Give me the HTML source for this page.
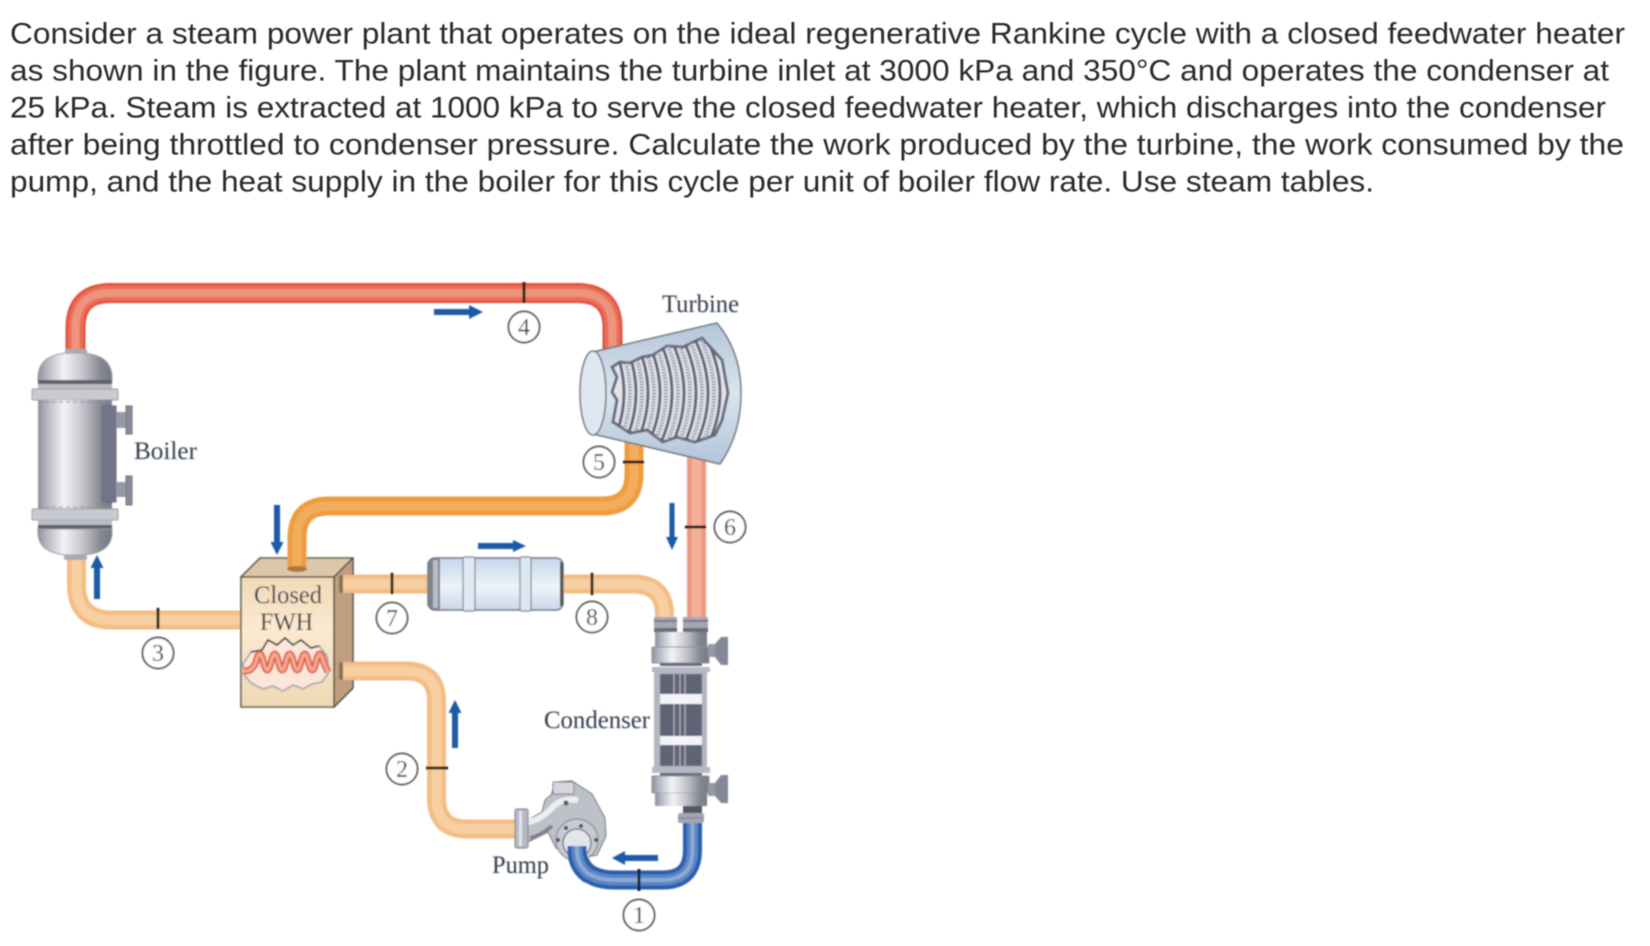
<!DOCTYPE html>
<html>
<head>
<meta charset="utf-8">
<style>
html,body{margin:0;padding:0;background:#fff;width:1650px;height:946px;overflow:hidden}
svg{display:block}
.q{font-family:"Liberation Sans",sans-serif;font-size:30px;fill:#2b2b2b}
.l{font-family:"Liberation Serif",serif;font-size:25px;fill:#2f3a4a}
.n{font-family:"Liberation Serif",serif;font-size:24px;fill:#333d4d;text-anchor:middle}
</style>
</head>
<body>
<svg width="1650" height="946" viewBox="0 0 1650 946" xmlns="http://www.w3.org/2000/svg">
<defs>
<filter id="b" x="-5%" y="-5%" width="110%" height="110%"><feGaussianBlur stdDeviation="0.75"/></filter>
<filter id="t"><feGaussianBlur stdDeviation="0.4"/></filter>
<linearGradient id="metal" x1="0" x2="1" y1="0" y2="0">
<stop offset="0" stop-color="#8d8f9c"/><stop offset=".12" stop-color="#b5b7c2"/><stop offset=".35" stop-color="#f3f3f5"/><stop offset=".6" stop-color="#c4c5cc"/><stop offset=".85" stop-color="#85878f"/><stop offset="1" stop-color="#777985"/>
</linearGradient>
<linearGradient id="front" x1="0" x2="0" y1="0" y2="1">
<stop offset="0" stop-color="#f0d9b5"/><stop offset=".4" stop-color="#fbe9d0"/><stop offset="1" stop-color="#eed9b2"/>
</linearGradient>
<linearGradient id="heater" x1="0" x2="0" y1="0" y2="1">
<stop offset="0" stop-color="#c4d6ea"/><stop offset=".55" stop-color="#eef3f9"/><stop offset="1" stop-color="#c9d8e8"/>
</linearGradient>
<linearGradient id="turb" x1="0" x2="0" y1="0" y2="1">
<stop offset="0" stop-color="#b4c5d8"/><stop offset=".5" stop-color="#dbe4ee"/><stop offset="1" stop-color="#b2c4d8"/>
</linearGradient>
<clipPath id="bl"><polygon points="612,367 620,362 630,363 642,357 653,355 667,346 683,347 702,338 722,360 728,393 722,420 715,435 695,442 677,437 663,442 647,430 630,433 613,422 617,400 612,392 617,377"/></clipPath>
<path id="p4" d="M75.500 349V328Q75.500 293 110.500 293H577Q612.500 293 612.500 328V352" fill="none"/>
<path id="p3" d="M76.500 556V585Q76.500 620 111.500 620H242" fill="none"/>
<path id="p5" d="M297 570V538Q297 506 329 506H602Q634 506 634 474V440" fill="none"/>
<path id="p7" d="M340 584H430" fill="none"/>
<path id="p8" d="M560 584H633Q664.500 584 664.500 615V620" fill="none"/>
<path id="p2" d="M340 671H406Q436.500 671 436.500 701V798Q436.500 829 467 829H518" fill="none"/>
<path id="p1" d="M692.500 822V850Q692.500 880 662.500 880H615Q577 880 577 846" fill="none"/>
<path id="coil" d="M243 671Q252 672 256 662Q259.750 646 263.500 662T271 662T278.500 662T286 662T293.500 662T301 662T308.500 662T316 662T323.500 662L328 672" fill="none"/>
</defs>

<g filter="url(#t)">
<text class="q" x="10" y="43.500" textLength="1615" lengthAdjust="spacingAndGlyphs">Consider a steam power plant that operates on the ideal regenerative Rankine cycle with a closed feedwater heater</text>
<text class="q" x="10" y="80.500" textLength="1599" lengthAdjust="spacingAndGlyphs">as shown in the figure. The plant maintains the turbine inlet at 3000 kPa and 350°C and operates the condenser at</text>
<text class="q" x="10" y="117.500" textLength="1596" lengthAdjust="spacingAndGlyphs">25 kPa. Steam is extracted at 1000 kPa to serve the closed feedwater heater, which discharges into the condenser</text>
<text class="q" x="10" y="154.500" textLength="1614" lengthAdjust="spacingAndGlyphs">after being throttled to condenser pressure. Calculate the work produced by the turbine, the work consumed by the</text>
<text class="q" x="10" y="191.500" textLength="1364" lengthAdjust="spacingAndGlyphs">pump, and the heat supply in the boiler for this cycle per unit of boiler flow rate. Use steam tables.</text>
</g>

<g filter="url(#b)">
<!-- pipes -->
<g stroke-linecap="butt">
<use href="#p4" stroke="#e4503d" stroke-width="20"/><use href="#p4" stroke="#e96e58" stroke-width="15"/><use href="#p4" stroke="#ee937b" stroke-width="8"/>
<use href="#p3" stroke="#f3bd85" stroke-width="19"/><use href="#p3" stroke="#f7cfa0" stroke-width="10"/>
<use href="#p5" stroke="#ee9c40" stroke-width="19"/><use href="#p5" stroke="#f2ad5c" stroke-width="9"/>
<use href="#p7" stroke="#f3bd85" stroke-width="19"/><use href="#p7" stroke="#f7cfa0" stroke-width="10"/>
<use href="#p8" stroke="#f3bd85" stroke-width="19"/><use href="#p8" stroke="#f7cfa0" stroke-width="10"/>
<use href="#p2" stroke="#f3bd85" stroke-width="19"/><use href="#p2" stroke="#f7cfa0" stroke-width="10"/>
<path d="M696.500 450V620" stroke="#ee9880" stroke-width="19" fill="none"/><path d="M696.500 450V620" stroke="#f4b09a" stroke-width="10" fill="none"/>
<use href="#p1" stroke="#2c5fae" stroke-width="19"/><use href="#p1" stroke="#5a86c4" stroke-width="11"/><use href="#p1" stroke="#8aa9d6" stroke-width="4"/>
</g>

<!-- boiler -->
<g>
<rect x="65" y="349" width="22" height="6" rx="1" fill="#a9abb5"/>
<path d="M38 378Q38 353 72 353H78Q112 353 112 378V381H38Z" fill="url(#metal)" stroke="#9a9ca6"/>
<rect x="38" y="380" width="74" height="4" fill="#5e606c"/>
<rect x="38" y="384" width="74" height="5" fill="#b9bbc4"/>
<rect x="32" y="389" width="86" height="11" rx="1" fill="#c9cad0" stroke="#9b9da7"/>
<rect x="38" y="400" width="74" height="109" fill="url(#metal)"/>
<path d="M38 402H112M38 507H112" stroke="#8d8fa0" stroke-dasharray="4 3"/>
<rect x="102" y="406" width="14" height="96" fill="#72758a" stroke="#6a6c7c"/>
<rect x="116" y="412" width="11" height="16" fill="#9698a6"/>
<rect x="126" y="406" width="6" height="28" fill="#878a9a" stroke="#777"/>
<rect x="116" y="482" width="11" height="15" fill="#9698a6"/>
<rect x="126" y="476" width="6" height="29" fill="#878a9a" stroke="#777"/>
<rect x="32" y="509" width="86" height="11" rx="1" fill="#c9cad0" stroke="#9b9da7"/>
<rect x="38" y="520" width="74" height="5" fill="#b9bbc4"/>
<rect x="38" y="525" width="74" height="4" fill="#5e606c"/>
<path d="M38 529H112V532Q112 555 78 555H72Q38 555 38 532Z" fill="url(#metal)" stroke="#9a9ca6"/>
<rect x="64" y="555" width="23" height="5" rx="2" fill="#a9abb5"/>
</g>

<!-- FWH -->
<g stroke="#5b574d" stroke-width="1.600" stroke-linejoin="round">
<polygon points="241,577 260,558 353,558 334,577" fill="#dcc7ab"/>
<polygon points="334,577 353,558 353,688 334,707" fill="#bf9f80"/>
<rect x="241" y="577" width="93" height="130" fill="url(#front)"/>
</g>
<path d="M297 548V568" stroke="#ee9c40" stroke-width="19" fill="none"/>
<path d="M297 548V568" stroke="#f2ad5c" stroke-width="9" fill="none"/>
<ellipse cx="297" cy="569" rx="10" ry="3" fill="#a87a3a"/>
<rect x="339" y="575" width="4" height="18" rx="2" fill="#8a7058"/>
<rect x="339" y="662" width="4" height="18" rx="2" fill="#8a7058"/>
<path d="M343 584H356" stroke="#f3bd85" stroke-width="18"/><path d="M343 584H356" stroke="#f7cfa0" stroke-width="10"/>
<path d="M343 671H356" stroke="#f3bd85" stroke-width="18"/><path d="M343 671H356" stroke="#f7cfa0" stroke-width="10"/>
<!-- coil -->
<polygon points="243,664 251,652 262,650 268,640 277,645 285,638 293,645 301,640 311,648 319,646 327,656 329,672 322,682 312,684 303,689 293,685 283,691 273,686 263,689 251,683 245,676" fill="#fbe6da" stroke="#a8aab0" stroke-width="1.800"/>
<path d="M251 652 262 650 268 640 277 645 285 638 293 645 301 640 311 648 319 646" fill="none" stroke="#2f2f2f" stroke-width="1.600"/>
<use href="#coil" stroke="#e45a48" stroke-width="7"/>
<use href="#coil" stroke="#f2a78f" stroke-width="3.500"/>

<!-- feedwater pump heater -->
<g>
<rect x="428" y="558" width="135" height="52" rx="7" fill="url(#heater)" stroke="#6e7480" stroke-width="1.500"/>
<path d="M428 566V602Q430 610 437 610H440V558H437Q430 558 428 566Z" fill="#7e838c"/>
<rect x="433" y="560" width="5" height="48" fill="#b8bec8"/>
<rect x="463" y="557" width="12" height="54" rx="2" fill="#dfe8f2" stroke="#7a808c" stroke-width="1.200"/>
<rect x="520" y="557" width="11" height="54" rx="2" fill="#dfe8f2" stroke="#7a808c" stroke-width="1.200"/>
<rect x="560" y="562" width="3" height="44" fill="#555"/>
</g>

<!-- turbine -->
<path d="M593 352L717 323Q741 352 741 393T720 464L593 434Z" fill="url(#turb)" stroke="#6b7280" stroke-width="1.500" stroke-linejoin="round"/>
<ellipse cx="593" cy="393" rx="13" ry="42" fill="#dfe7f1" stroke="#6b7280" stroke-width="1.500"/>
<polygon points="612,367 620,362 630,363 642,357 653,355 667,346 683,347 702,338 722,360 728,393 722,420 715,435 695,442 677,437 663,442 647,430 630,433 613,422 617,400 612,392 617,377" fill="#e3e4ea" stroke="#666c7e" stroke-width="3"/>
<g clip-path="url(#bl)" fill="none">
<g stroke="#5f6577" stroke-width="3">
<path d="M606 330Q642 393 606 456"/><path d="M618 330Q654 393 618 456"/><path d="M630 330Q666 393 630 456"/><path d="M642 330Q678 393 642 456"/><path d="M654 330Q690 393 654 456"/><path d="M666 330Q702 393 666 456"/><path d="M678 330Q714 393 678 456"/><path d="M690 330Q726 393 690 456"/><path d="M702 330Q738 393 702 456"/>
</g>
<g stroke="#8a90a2" stroke-width="4" stroke-dasharray="1.500 1.500">
<path d="M612 330Q648 393 612 456"/><path d="M624 330Q660 393 624 456"/><path d="M636 330Q672 393 636 456"/><path d="M648 330Q684 393 648 456"/><path d="M660 330Q696 393 660 456"/><path d="M672 330Q708 393 672 456"/><path d="M684 330Q720 393 684 456"/><path d="M696 330Q732 393 696 456"/>
</g>
</g>

<!-- condenser -->
<g>
<rect x="654" y="617" width="23" height="13" rx="1" fill="#a4a6b4"/><rect x="683" y="617" width="25" height="13" rx="1" fill="#a4a6b4"/>
<path d="M654 621H677M683 621H708" stroke="#6b6d7d" stroke-width="1.500"/>
<rect x="654" y="628" width="23" height="4" fill="#6a6c7a"/><rect x="683" y="628" width="25" height="4" fill="#6a6c7a"/>
<rect x="655" y="632" width="52" height="15" fill="url(#metal)"/>
<rect x="652" y="647" width="57" height="16" rx="1" fill="url(#metal)" stroke="#8d8f9c"/>
<rect x="660" y="663" width="42" height="3" fill="#6a6c7a"/>
<rect x="652" y="667" width="58" height="5" fill="#b6b8c4"/>
<rect x="654" y="672" width="53" height="95" fill="#b3b5c0"/>
<rect x="660" y="674" width="42" height="92" fill="#5f6376"/>
<path d="M674 674V766M680 674V766M685 674V766" stroke="#a9abb8" stroke-width="1.500"/>
<rect x="660" y="694" width="42" height="10" fill="#f4f3f8"/>
<rect x="660" y="736" width="42" height="9" fill="#f4f3f8"/>
<rect x="652" y="767" width="58" height="6" fill="#b6b8c4"/>
<rect x="660" y="773" width="42" height="3" fill="#6a6c7a"/>
<rect x="652" y="776" width="57" height="17" rx="1" fill="url(#metal)" stroke="#8d8f9c"/>
<rect x="655" y="793" width="52" height="13" fill="url(#metal)"/>
<rect x="683" y="806" width="19" height="8" fill="#555765"/>
<rect x="678" y="813" width="26" height="10" rx="2" fill="#a4a6b4"/>
<path d="M678 818H704" stroke="#7a7c8a"/>
<rect x="708" y="644" width="12" height="13" fill="#9698a8"/><polygon points="715,644 721,637 728,637 728,665 721,665 715,657" fill="#858899"/>
<rect x="708" y="783" width="12" height="13" fill="#9698a8"/><polygon points="715,783 721,775 728,775 728,803 721,803 715,796" fill="#858899"/>
</g>

<!-- pump -->
<g>
<path d="M551 795L556 782 572 781 592 794 605 818 606 836 597 855 575 859 556 848 548 832 528 842 528 820 542 812 545 800Z" fill="#bfc1c9" stroke="#6e7078" stroke-width="1"/>
<rect x="553" y="782" width="21" height="12" rx="1" fill="#d6d7de" stroke="#777"/>
<path d="M528 822Q540 820 552 808Q560 798 578 800" fill="none" stroke="#eceef1" stroke-width="6"/>
<path d="M530 838Q540 836 552 826" fill="none" stroke="#7f818b" stroke-width="4"/>
<rect x="515" y="809" width="13" height="39" rx="2" fill="#b6b8c2" stroke="#777985"/>
<rect x="519" y="811" width="3" height="35" fill="#e4e5ea"/>
<circle cx="566" cy="803" r="2.500" fill="#55586a"/>
<circle cx="577" cy="840" r="21" fill="#c9cad2" stroke="#8a8c96" stroke-width="1.200"/>
<circle cx="577" cy="843" r="14" fill="#e4e4ea" stroke="#777a86" stroke-width="1.500"/>
<circle cx="566" cy="828" r="2" fill="#4a4c58"/><circle cx="581" cy="826" r="2" fill="#4a4c58"/><circle cx="558" cy="840" r="2" fill="#4a4c58"/><circle cx="596" cy="840" r="2" fill="#4a4c58"/>
</g>
<path d="M577 846V850Q577 866 590 875" fill="none" stroke="#2c5fae" stroke-width="19"/>
<path d="M577 846V850Q577 866 590 875" fill="none" stroke="#5a86c4" stroke-width="11"/>
<path d="M577 846V850Q577 866 590 875" fill="none" stroke="#8aa9d6" stroke-width="4"/>

<!-- ticks -->
<g stroke="#1c1c1c" stroke-width="3">
<path d="M524 282V303"/><path d="M158 608V629"/><path d="M392 573V594"/><path d="M592 573V595"/>
<path d="M623 462H644"/><path d="M685 527H706"/><path d="M426 768H448"/><path d="M639 869V891"/>
</g>

<!-- arrows -->
<g fill="#1d5aa6">
<polygon points="434,309 469,309 469,305 483,312 469,319 469,315 434,315"/>
<polygon points="94,599 100,599 100,568 103.500,568 97,555 90.500,568 94,568"/>
<polygon points="274,505 280,505 280,542 283.500,542 277,555 270.500,542 274,542"/>
<polygon points="478,543 513,543 513,540 526,546 513,552 513,549 478,549"/>
<polygon points="669.500,503 674.500,503 674.500,537 678,537 672,550 666,537 669.500,537"/>
<polygon points="452,748 458,748 458,713 461.500,713 455,700 448.500,713 452,713"/>
<polygon points="658,855 625,855 625,851 612,858 625,865 625,861 658,861"/>
</g>

<!-- state circles -->
<g fill="#fff" stroke="#3c3c3c" stroke-width="1.700">
<circle cx="158" cy="653" r="15.500"/><circle cx="524" cy="327" r="15.500"/><circle cx="392" cy="618" r="15.500"/><circle cx="599" cy="462" r="15.500"/>
<circle cx="730" cy="527" r="15.500"/><circle cx="592" cy="617" r="15.500"/><circle cx="402" cy="769" r="15.500"/><circle cx="639" cy="915" r="15.500"/>
</g>
<text class="n" x="158" y="661">3</text>
<text class="n" x="524" y="335">4</text>
<text class="n" x="392" y="626">7</text>
<text class="n" x="599" y="470">5</text>
<text class="n" x="730" y="535">6</text>
<text class="n" x="592" y="625">8</text>
<text class="n" x="402" y="777">2</text>
<text class="n" x="639" y="923">1</text>

<!-- labels -->
<text class="l" x="134" y="459" textLength="63" lengthAdjust="spacingAndGlyphs">Boiler</text>
<text class="l" x="254" y="603" textLength="68" lengthAdjust="spacingAndGlyphs">Closed</text>
<text class="l" x="260" y="630" textLength="53" lengthAdjust="spacingAndGlyphs">FWH</text>
<text class="l" x="662" y="312" textLength="77" lengthAdjust="spacingAndGlyphs">Turbine</text>
<text class="l" x="544" y="728" textLength="106" lengthAdjust="spacingAndGlyphs">Condenser</text>
<text class="l" x="492" y="873" textLength="57" lengthAdjust="spacingAndGlyphs">Pump</text>
</g>
</svg>
</body>
</html>
